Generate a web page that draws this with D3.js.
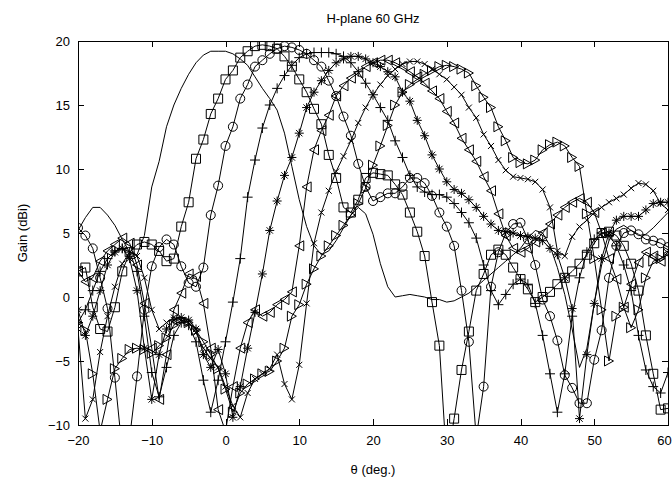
<!DOCTYPE html>
<html><head><meta charset="utf-8">
<script src="https://cdn.jsdelivr.net/npm/d3@7"></script>
<style>
body{margin:0;background:#fff}
svg{display:block}
text{font-family:"Liberation Sans",Arial,Helvetica,sans-serif;fill:#000}
</style>
</head><body>
<svg id="chart" width="672" height="484"></svg>
<script>
// ---- data (angle in degrees, gain in dBi) ----
const theta = [-20,-19,-18,-17,-16,-15,-14,-13,-12,-11,-10,-9,-8,-7,-6,-5,-4,-3,-2,-1,
  0,1,2,3,4,5,6,7,8,9,10,11,12,13,14,15,16,17,18,19,20,21,22,23,24,25,26,27,28,29,
  30,31,32,33,34,35,36,37,38,39,40,41,42,43,44,45,46,47,48,49,50,51,52,53,54,55,56,57,58,59,60];

const gainPlain = [5.2,6.2,7.0,7.0,6.4,5.6,4.5,3.5,3.3,4.8,
  8.6,10.6,13.3,15.0,16.3,17.4,18.3,18.9,19.2,19.2,
  19.2,19.0,18.6,18.1,17.2,16.3,15.5,14.6,12.8,10.2,
  7.6,5.5,4.0,3.3,3.6,4.4,5.4,6.4,7.0,6.5,
  4.9,2.6,0.8,0.0,0.1,0.2,0.1,0.0,-0.2,-0.2,
  -0.4,-0.3,0.0,0.3,0.8,1.3,1.8,2.3,2.8,3.3,
  3.8,4.6,5.2,5.0,4.0,2.3,0.2,-2.5,-5.5,-4.0,
  -0.5,2.5,4.4,5.3,5.6,5.2,4.8,4.9,5.4,6.0,6.6];

const gainSquare = [2.0,2.3,-0.8,-2.5,-2.7,-0.8,2.0,3.5,4.1,4.3,
  4.1,3.6,2.8,3.0,5.5,7.4,10.8,12.3,14.3,15.5,
  17.0,17.7,18.7,19.2,19.6,19.7,19.6,19.4,18.8,18.0,
  17.0,16.0,14.7,13.5,11.1,9.3,7.0,6.6,7.6,9.3,
  9.7,9.6,9.5,8.8,8.0,6.6,5.1,3.2,-0.4,-3.8,
  -13.0,-9.5,-5.7,-2.7,0.5,1.8,3.3,3.7,3.3,2.3,
  1.4,0.6,-0.4,0.0,0.4,1.0,1.5,2.0,2.6,3.3,
  4.2,5.0,5.1,4.8,4.0,2.6,0.5,-3.0,-6.0,-8.8,-8.7];

const gainCircle = [5.4,4.8,3.8,1.5,-0.9,-6.3,-12.0,-11.0,-6.2,-1.0,
  2.4,3.9,4.5,4.1,2.4,1.1,0.8,2.3,6.4,8.7,
  11.8,13.3,15.5,16.6,18.0,18.5,19.0,19.4,19.6,19.5,
  19.3,19.0,18.5,18.0,16.9,15.7,14.1,12.6,10.4,8.6,
  7.5,7.8,8.1,8.1,8.6,9.3,9.3,8.9,7.9,6.6,
  5.5,4.0,0.5,-3.5,-11.0,-7.0,0.8,3.5,5.0,5.7,
  5.8,4.5,2.5,-0.2,-1.5,-3.4,-6.1,-7.1,-8.3,-8.3,
  -4.9,-2.6,1.5,4.0,5.0,5.2,4.9,4.5,4.4,4.2,3.9];

const gainPlus = [-2.0,-1.0,0.5,2.0,3.0,3.6,3.8,3.5,2.0,-1.5,
  -5.9,-7.8,-5.5,-3.0,-2.0,-2.2,-3.5,-6.5,-9.0,-6.5,
  -3.5,-0.4,3.0,7.8,10.7,13.2,15.0,16.3,17.3,18.1,
  18.7,19.0,19.1,19.1,19.1,19.0,18.8,18.3,17.6,16.7,
  15.8,14.8,13.8,12.2,10.9,9.5,8.6,8.2,8.0,8.0,
  7.8,7.3,6.6,5.8,4.6,2.5,0.5,-0.6,0.2,1.0,
  1.4,1.0,-0.5,-3.0,-6.0,-9.0,-6.0,-1.5,1.5,3.5,
  4.5,5.0,4.8,4.0,2.5,0.5,-3.0,-5.7,-7.0,-7.5,-5.9];

const gainStar = [-1.0,-3.0,-1.5,0.5,2.5,3.5,3.8,3.0,0.5,-4.0,
  -8.0,-4.5,-2.5,-1.8,-1.6,-1.8,-2.5,-4.5,-5.5,-4.1,
  -6.0,-9.4,-7.0,-4.0,-1.2,1.8,5.2,7.5,9.5,10.9,
  12.8,14.8,16.0,16.9,17.7,18.3,18.6,18.8,18.8,18.6,
  18.3,18.0,17.6,17.2,16.0,15.3,13.8,12.6,11.1,10.0,
  9.0,8.4,8.1,7.6,7.0,6.3,5.7,5.2,5.1,5.0,
  4.8,4.7,4.6,4.4,3.8,3.3,1.5,-0.9,-9.5,-4.5,
  -0.5,3.0,5.0,6.0,6.3,6.3,6.3,6.8,7.3,7.4,7.4];

const gainTriLeft = [2.0,1.2,1.5,2.8,3.6,4.1,4.6,4.2,2.5,-0.5,
  -4.0,-8.0,-4.5,-1.0,0.3,1.8,1.6,-0.5,-4.0,-8.8,
  -10.5,-7.0,-4.0,-2.0,-1.0,-1.5,-1.2,-0.6,-0.2,0.4,
  4.0,8.6,11.5,13.0,14.2,15.7,16.5,17.1,17.5,18.0,
  18.3,18.5,18.5,18.3,18.0,17.6,17.2,16.7,16.1,15.5,
  14.5,13.6,12.4,11.5,10.6,9.4,8.3,6.5,4.8,3.8,
  3.5,3.8,4.3,5.0,5.7,6.4,7.0,7.4,7.7,7.4,
  6.6,5.0,3.0,1.4,-0.8,1.0,2.7,3.5,3.2,2.8,3.4];

const gainCross = [-2.5,-9.5,-8.0,-4.3,-1.5,0.8,2.6,3.5,3.2,1.5,
  -1.0,-2.5,-2.0,-1.6,-1.8,-2.0,-2.8,-4.0,-4.8,-5.5,
  -7.0,-8.5,-9.4,-7.5,-6.4,-6.0,-5.6,-4.5,-6.8,-8.0,
  -5.3,-0.5,4.2,6.6,8.3,9.8,11.0,12.2,13.6,14.8,
  15.8,16.6,17.3,17.8,18.2,18.4,18.4,18.2,17.8,17.4,
  17.0,16.4,15.8,14.8,14.0,12.7,11.8,10.7,9.9,9.4,
  9.3,9.2,9.0,8.4,7.0,3.6,3.2,4.7,5.5,6.0,
  6.6,7.0,7.4,7.7,8.0,8.5,8.9,8.8,8.3,7.3,6.8];

const gainTriRight = [-2.0,-2.6,-6.0,-10.5,-8.0,-5.6,-4.8,-4.1,-4.0,-4.1,
  -4.4,-3.8,-3.2,-2.2,-1.8,-2.0,-2.6,-3.5,-4.5,-5.6,
  -7.2,-9.0,-7.5,-6.8,-6.4,-6.0,-5.8,-5.0,-4.0,-1.5,
  -0.6,1.0,2.2,3.2,4.0,4.8,5.6,6.4,7.3,8.5,
  10.3,11.8,13.4,15.0,16.0,16.6,17.0,17.4,17.7,18.0,
  18.1,18.0,17.8,17.5,16.5,15.6,14.8,13.3,12.2,10.9,
  10.5,10.4,10.7,11.5,11.9,12.1,11.8,10.9,10.2,6.5,
  3.0,-1.0,-5.0,-1.5,-0.8,-2.4,-1.0,1.5,2.8,3.0,3.5];

const xTicks = [-20,-10,0,10,20,30,40,50,60];
const yTicks = [-10,-5,0,5,10,15,20];
const titleText = "H-plane 60 GHz";
const xLabel = "\u03b8 (deg.)";
const yLabel = "Gain (dBi)";

// ---- marker shapes ----
const markerPaths = {
  none: null,
  square: "M-4.5,-4.5h9v9h-9z",
  circle: "M4.5,0A4.5,4.5 0 1,1 -4.5,0A4.5,4.5 0 1,1 4.5,0Z",
  plus: "M-5,0H5M0,-5V5",
  star: "M-4.5,0H4.5M0,-4.5V4.5M-3.2,-3.2L3.2,3.2M-3.2,3.2L3.2,-3.2",
  triLeft: "M-4.5,0L4.5,-5L4.5,5Z",
  cross: "M-3,-3L3,3M-3,3L3,-3",
  triRight: "M4.5,0L-4.5,-5L-4.5,5Z"
};

const series = [
  {values: gainPlain, marker: "none"},
  {values: gainSquare, marker: "square"},
  {values: gainCircle, marker: "circle"},
  {values: gainPlus, marker: "plus"},
  {values: gainStar, marker: "star"},
  {values: gainTriLeft, marker: "triLeft"},
  {values: gainCross, marker: "cross"},
  {values: gainTriRight, marker: "triRight"}
];

// ---- layout ----
const L = 78, R = 668, T = 41, B = 425;
const x = d3.scaleLinear().domain([-20, 60]).range([L, R]);
const y = d3.scaleLinear().domain([-10, 20]).range([B, T]);

const svg = d3.select("#chart");
svg.append("rect").attr("width", 672).attr("height", 484).attr("fill", "#fff");

svg.append("defs").append("clipPath").attr("id", "plotClip")
  .append("rect").attr("x", L).attr("y", T).attr("width", R - L).attr("height", B - T);

const plot = svg.append("g").attr("clip-path", "url(#plotClip)");

const line = d3.line().x((d, i) => x(theta[i])).y(d => y(d));

series.forEach(s => {
  const g = plot.append("g");
  g.append("path").datum(s.values)
    .attr("d", line)
    .attr("fill", "none").attr("stroke", "#000").attr("stroke-width", 1);
  if (markerPaths[s.marker]) {
    const pts = s.values.map((v, i) => ({t: theta[i], v})).filter(p => p.v >= -10 && p.v <= 20);
    g.selectAll("path.m").data(pts).enter().append("path")
      .attr("class", "m")
      .attr("transform", p => `translate(${x(p.t)},${y(p.v)})`)
      .attr("d", markerPaths[s.marker])
      .attr("fill", "none").attr("stroke", "#000").attr("stroke-width", 1);
  }
});

// ---- axes ----
function styleAxis(g, keepText) {
  g.select(".domain").remove();
  g.selectAll(".tick line").attr("stroke", "#000").attr("shape-rendering", "crispEdges");
  g.selectAll(".tick text").attr("font-size", 13).attr("fill", "#000")
    .style("font-family", '"Liberation Sans",Arial,sans-serif');
  if (!keepText) g.selectAll(".tick text").remove();
}

svg.append("g").attr("transform", `translate(0,${B})`)
  .call(d3.axisBottom(x).tickValues(xTicks).tickSizeInner(-6).tickSizeOuter(0).tickPadding(11))
  .call(g => styleAxis(g, true))
  .call(g => g.selectAll(".tick text").filter(d => d === 60).attr("dx", -4));
svg.append("g").attr("transform", `translate(0,${T})`)
  .call(d3.axisTop(x).tickValues(xTicks).tickSizeInner(-6).tickSizeOuter(0))
  .call(g => styleAxis(g, false));
svg.append("g").attr("transform", `translate(${L},0)`)
  .call(d3.axisLeft(y).tickValues(yTicks).tickSizeInner(-6).tickSizeOuter(0).tickPadding(8))
  .call(g => styleAxis(g, true));
svg.append("g").attr("transform", `translate(${R},0)`)
  .call(d3.axisRight(y).tickValues(yTicks).tickSizeInner(-6).tickSizeOuter(0))
  .call(g => styleAxis(g, false));

svg.append("rect").attr("x", L).attr("y", T).attr("width", R - L).attr("height", B - T)
  .attr("fill", "none").attr("stroke", "#000").attr("stroke-width", 1).attr("shape-rendering", "crispEdges");

// ---- titles ----
svg.append("text").attr("x", (L + R) / 2).attr("y", 23).attr("text-anchor", "middle")
  .attr("font-size", 13).text(titleText);
svg.append("text").attr("x", (L + R) / 2).attr("y", 474).attr("text-anchor", "middle")
  .attr("font-size", 13).text(xLabel);
svg.append("text").attr("transform", `translate(27,${(T + B) / 2}) rotate(-90)`)
  .attr("text-anchor", "middle").attr("font-size", 13).text(yLabel);
</script>
</body></html>
